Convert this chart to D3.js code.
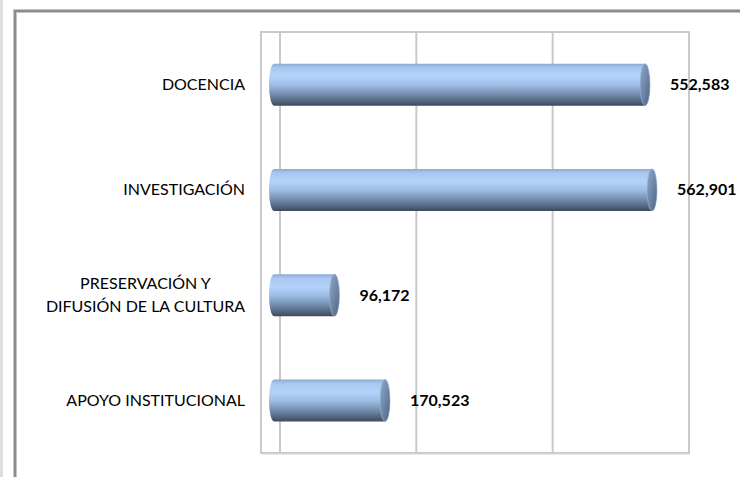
<!DOCTYPE html>
<html><head><meta charset="utf-8">
<script src="https://cdn.jsdelivr.net/npm/d3@7"></script>
<style>html,body{margin:0;padding:0;background:#fff;overflow:hidden}</style>
</head><body>
<svg id="chart" width="740" height="477"></svg>
<script>
const categories = [["DOCENCIA"], ["INVESTIGACIÓN"], ["PRESERVACIÓN Y", "DIFUSIÓN DE LA CULTURA"], ["APOYO INSTITUCIONAL"]];
const values = [552583, 562901, 96172, 170523];
const valueLabels = ["552,583", "562,901", "96,172", "170,523"];
const gridTicks = [0, 200000, 400000, 600000];

const svg = d3.select("#chart");
const font = "Lato, 'Open Sans', sans-serif";

// page decoration
svg.append("rect").attr("x",0).attr("y",0).attr("width",3).attr("height",477).attr("fill","#dedede");
svg.append("path").attr("d","M15,477 L15,11 L740,11").attr("fill","none").attr("stroke","#c4c4c4").attr("stroke-width",4);
svg.append("path").attr("d","M15,477 L15,11 L740,11").attr("fill","none").attr("stroke","#8c8c8c").attr("stroke-width",2);

const domainMax = 600000;
const plotTop = 32, plotBottom = 453, frontLeft = 261;
const gx = d3.scaleLinear().domain([0, domainMax]).range([280, 689]);
const bx = d3.scaleLinear().domain([0, domainMax]).range([269, 677.3]);
const y = d3.scaleBand().domain(d3.range(categories.length)).range([plotTop, plotBottom]);

// plot frame & gridlines
const gridColor = "#c9c9c9";
svg.append("rect").attr("x",frontLeft).attr("y",plotTop).attr("width",gx(domainMax)-frontLeft).attr("height",plotBottom-plotTop)
  .attr("fill","none").attr("stroke",gridColor).attr("stroke-width",2);
svg.selectAll("line.grid").data(gridTicks).enter().append("line").attr("class","grid")
  .attr("x1",d=>gx(d)).attr("x2",d=>gx(d)).attr("y1",plotTop).attr("y2",plotBottom)
  .attr("stroke",gridColor).attr("stroke-width",2);
svg.append("line").attr("x1",frontLeft).attr("x2",gx(domainMax)).attr("y1",plotBottom+1).attr("y2",plotBottom+1)
  .attr("stroke","#d6d6d6").attr("stroke-width",1);

// gradients
const defs = svg.append("defs");
const bodyGrad = defs.append("linearGradient").attr("id","body").attr("x1",0).attr("y1",0).attr("x2",0).attr("y2",1);
[[0,"#8aa9d4"],[0.1,"#a8c8f1"],[0.3,"#b5d3fa"],[0.5,"#9fbee6"],[0.75,"#7089a9"],[0.92,"#4e5f77"],[1,"#3d4a5c"]]
  .forEach(([o,c])=>bodyGrad.append("stop").attr("offset",o).attr("stop-color",c));
const capGrad = defs.append("linearGradient").attr("id","cap").attr("x1",0).attr("y1",0).attr("x2",1).attr("y2",1);
[[0,"#8ea7cb"],[0.5,"#6f88aa"],[1,"#4f6280"]]
  .forEach(([o,c])=>capGrad.append("stop").attr("offset",o).attr("stop-color",c));

const barH = 42, rx = 5;
const bars = svg.selectAll("g.bar").data(values).enter().append("g").attr("class","bar");
bars.append("path")
  .attr("d",(d,i)=>{
    const cy = y(i)+y.bandwidth()/2, x0 = bx(0)+rx, x1 = bx(d), t = cy-barH/2, b = cy+barH/2;
    return `M${x0},${t} L${x1},${t} A${rx},${barH/2} 0 0 1 ${x1},${b} L${x0},${b} A${rx},${barH/2} 0 0 1 ${x0},${t} Z`;
  })
  .attr("fill","url(#body)");
bars.append("ellipse")
  .attr("cx",d=>bx(d)).attr("cy",(d,i)=>y(i)+y.bandwidth()/2)
  .attr("rx",rx).attr("ry",barH/2)
  .attr("fill","url(#cap)").attr("stroke","#9fb5d3").attr("stroke-width",0.6);

// value labels
svg.selectAll("text.val").data(values).enter().append("text").attr("class","val")
  .attr("x",d=>bx(d)+rx+20).attr("y",(d,i)=>y(i)+y.bandwidth()/2)
  .attr("dy","0.35em").attr("font-family",font).attr("font-weight","bold").attr("font-size",16)
  .attr("fill","#000").text((d,i)=>valueLabels[i]);

// category labels
const labelRight = 245;
categories.forEach((lines,i)=>{
  const cy = y(i)+y.bandwidth()/2;
  const lh = 23;
  const t = svg.append("text").attr("font-family",font).attr("font-size",16).attr("fill","#000");
  lines.forEach((ln,j)=>{
    t.append("tspan").attr("y", cy + (j-(lines.length-1)/2)*lh).attr("dy","0.35em").text(ln);
  });
  const widths = t.selectAll("tspan").nodes().map(n=>n.getComputedTextLength());
  const maxW = d3.max(widths);
  t.attr("text-anchor","middle");
  t.selectAll("tspan").attr("x", labelRight - maxW/2);
});
</script>
</body></html>
